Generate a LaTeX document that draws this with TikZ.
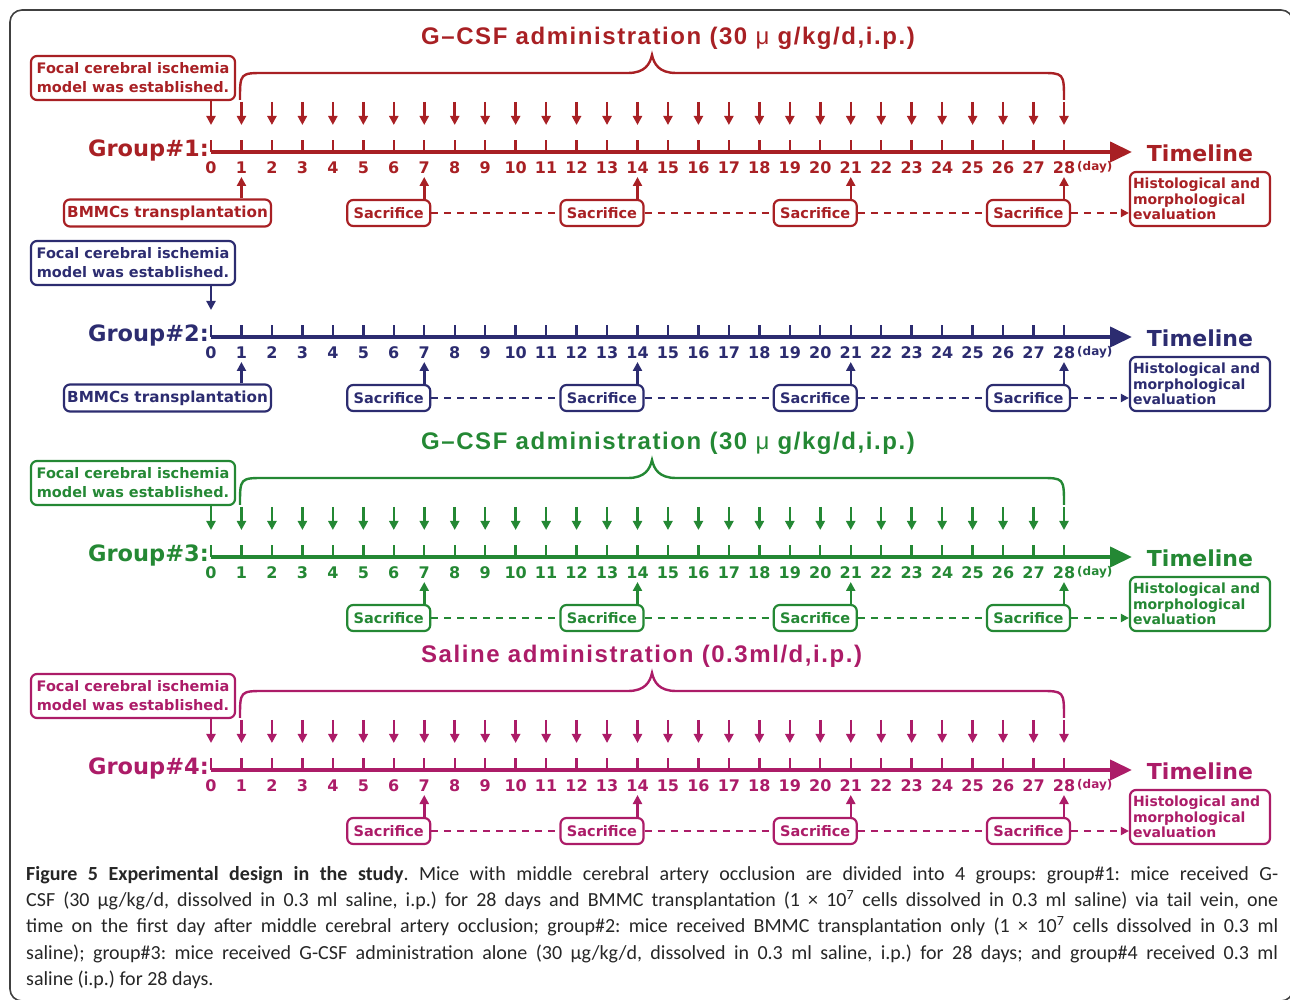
\documentclass[tikz,border=0pt]{standalone}
\usepackage{fontspec}
\setmainfont{DejaVu Sans}
\newfontfamily\titlefont[LetterSpace=6.5]{Liberation Sans}
\newfontfamily\capfont{Carlito}
\usetikzlibrary{arrows.meta,calc,positioning}
\definecolor{gred}{RGB}{168,32,36}
\definecolor{gblue}{RGB}{44,44,112}
\definecolor{ggreen}{RGB}{36,136,52}
\definecolor{gpink}{RGB}{172,28,104}
\newcommand{\gcsftitle}{G–CSF administration (30 {\mdseries μ} g/kg/d,i.p.)}
\newcommand{\salinetitle}{Saline administration (0.3ml/d,i.p.)}
\frenchspacing
\begin{document}
\begin{tikzpicture}[x=1pt,y=1pt,
    every node/.style={font=\bfseries},
    box/.style={draw=gc,text=gc,line width=2.2pt,rounded corners=6pt,inner sep=0pt},
    focalbox/.style={box,minimum width=204pt,minimum height=44pt,align=center,
        font=\fontsize{14.5}{19}\selectfont\bfseries},
    sacbox/.style={box,minimum width=83pt,minimum height=26pt,
        font=\fontsize{14.5}{17}\selectfont\bfseries},
    bmmcbox/.style={box,minimum width=207pt,minimum height=27pt,
        font=\fontsize{15.2}{17}\selectfont\bfseries},
    histbox/.style={box,text width=134pt,inner xsep=3pt,minimum height=54pt,align=left,
        font=\fontsize{14}{15.5}\selectfont\bfseries},
    num/.style={text=gc,inner sep=0pt,font=\fontsize{16}{16}\selectfont\bfseries},
    glabel/.style={text=gc,inner sep=0pt,font=\fontsize{22.5}{24}\selectfont\bfseries},
    tline/.style={text=gc,inner sep=0pt,font=\fontsize{22}{24}\selectfont\bfseries},
    daylabel/.style={text=gc,inner sep=0pt,font=\fontsize{12}{14}\selectfont\bfseries},
    gtitle/.style={text=gc,inner sep=0pt,font=\titlefont\fontsize{24}{26}\selectfont\bfseries},
    axisline/.style={draw=gc,line width=4pt,-{Triangle[length=22pt,width=20pt]}},
    tickline/.style={draw=gc,line width=2.4pt},
    evarrow/.style={draw=gc,line width=2.5pt,-{Triangle[length=9pt,width=9pt]}},
    dashline/.style={draw=gc,line width=2pt,dash pattern=on 7pt off 6pt},
    bracepath/.style={draw=gc,line width=2.4pt},
    capnode/.style={text width=1252pt,align=justify,inner sep=0pt,text=black!85,
        font=\capfont\fontsize{20}{26.3}\selectfont}]
  \useasboundingbox (0,0) rectangle (1290,999);
  % frame
  \draw[line width=1.6pt,black!75,rounded corners=12pt] (10,-2) rectangle (1293,989);

  % the four time lines
  \foreach \g/\yb/\col in {1/847/gred,2/662/gblue,3/442/ggreen,4/229/gpink}{
    \begin{scope}[yshift=\yb pt]
      \colorlet{gc}{\col}
      \foreach \d in {0,...,28}{
        \coordinate (g\g-d\d) at ({211+30.464*\d},0);
        \coordinate (g\g-t\d) at ({211+30.464*\d},12);
        \coordinate (g\g-top\d) at ({211+30.464*\d},27);
        \coordinate (g\g-bot\d) at ({211+30.464*\d},-25);
        \draw[tickline] (g\g-d\d) -- (g\g-t\d);
        \node[num] (g\g-n\d) at ({211+30.464*\d},-16) {\d};
      }
      \coordinate (g\g-end) at (1132,0);
      \draw[axisline] (g\g-d0) -- (g\g-end);
      \node[glabel,anchor=east] (g\g-label) at (209,2) {Group\#\g:};
      \node[tline] (g\g-timeline) at (1200,-1) {Timeline};
      \node[daylabel,anchor=west] (g\g-day) at (1077,-15) {(day)};
      \node[focalbox] (g\g-focal) at (133,74) {Focal cerebral ischemia\\model was established.};
      \draw[evarrow] (g\g-focal.south -| g\g-d0) -- (g\g-top0);
      \foreach \d in {7,14,21,28}{
        \node[sacbox] (g\g-sac\d) at ({211+30.464*\d-35.5},-61) {Sacrifice};
        \draw[evarrow] (g\g-sac\d.north -| g\g-d\d) -- (g\g-bot\d);
      }
      \node[histbox] (g\g-hist) at (1200,-47) {Histological and\\morphological\\evaluation};
      \draw[dashline] (g\g-sac7) -- (g\g-sac14);
      \draw[dashline] (g\g-sac14) -- (g\g-sac21);
      \draw[dashline] (g\g-sac21) -- (g\g-sac28);
      \draw[dashline,-{Triangle[length=8pt,width=8pt]}] (g\g-sac28) -- (g\g-hist.west |- g\g-sac28);
    \end{scope}
  }

  % daily administration
  \foreach \g/\yb/\col/\ttl in {1/847/gred/\gcsftitle,3/442/ggreen/\gcsftitle,4/229/gpink/\salinetitle}{
    \begin{scope}[yshift=\yb pt]
      \colorlet{gc}{\col}
      \node[gtitle,anchor=west] (g\g-title) at (421,114) {\ttl};
      \coordinate (g\g-bl) at (240,52);
      \coordinate (g\g-br) at (1064,52);
      \coordinate (g\g-tip) at (652,97);
      \draw[bracepath] (g\g-bl) .. controls (240,79) .. (265,79) -- (628,79)
        .. controls (645,79) and (650,88) .. (g\g-tip)
        .. controls (654,88) and (659,79) .. (676,79) -- (1040,79)
        .. controls (1064,79) .. (g\g-br);
      \foreach \d in {1,...,28}{
        \coordinate (g\g-up\d) at ({211+30.464*\d},50);
        \draw[evarrow] (g\g-up\d) -- (g\g-top\d);
      }
    \end{scope}
  }

  % cell transplantation
  \foreach \g/\yb/\col in {1/847/gred,2/662/gblue}{
    \begin{scope}[yshift=\yb pt]
      \colorlet{gc}{\col}
      \node[bmmcbox] (g\g-bmmc) at (167.5,-61) {BMMCs transplantation};
      \draw[evarrow] (g\g-bmmc.north -| g\g-d1) -- (g\g-bot1);
    \end{scope}
  }

  % caption
  \node[capnode,anchor=north west] (caption) at (26,133) {\textbf{Figure 5 Experimental design in the study}. Mice with middle cerebral artery occlusion are divided into 4 groups: group\#1: mice received G-\linebreak
  CSF (30 μg/kg/d, dissolved in 0.3 ml saline, i.p.) for 28 days and BMMC transplantation (1 × 10\textsuperscript{7} cells dissolved in 0.3 ml saline) via tail vein, one\linebreak
  time on the first day after middle cerebral artery occlusion; group\#2: mice received BMMC transplantation only (1 × 10\textsuperscript{7} cells dissolved in 0.3 ml\linebreak
  saline); group\#3: mice received G-CSF administration alone (30 μg/kg/d, dissolved in 0.3 ml saline, i.p.) for 28 days; and group\#4 received 0.3 ml\linebreak
  saline (i.p.) for 28 days.};
\end{tikzpicture}
\end{document}
